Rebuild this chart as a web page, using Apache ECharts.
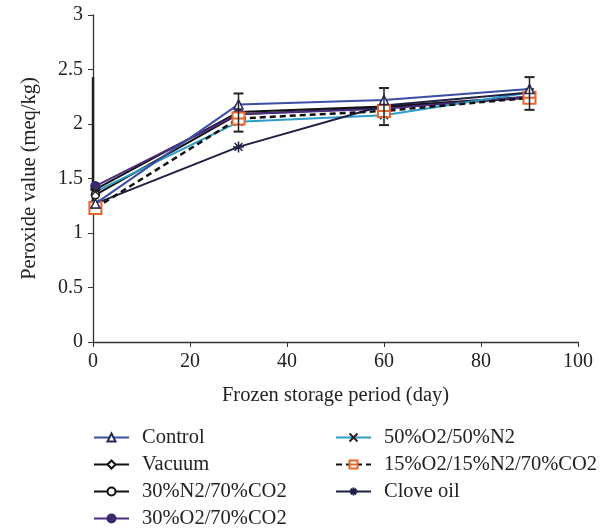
<!DOCTYPE html>
<html><head><meta charset="utf-8">
<script src="https://cdn.jsdelivr.net/npm/echarts@6/dist/echarts.min.js"></script>
<style>html,body{margin:0;padding:0;background:#fff}#c{width:614px;height:529px}</style>
</head><body><div id="c"></div>
<script>
var days = [0.5, 30, 60, 90];
var seriesNames = ['Control','Vacuum','30%N2/70%CO2','30%O2/70%CO2','50%O2/50%N2','15%O2/15%N2/70%CO2','Clove oil'];
var control   = [1.27, 2.18, 2.22, 2.32];
var vacuum    = [1.40, 2.11, 2.16, 2.25];
var n2co2     = [1.35, 2.09, 2.15, 2.24];
var o2co2     = [1.43, 2.09, 2.14, 2.25];
var o2n2      = [1.38, 2.02, 2.08, 2.29];
var o2n2co2   = [1.23, 2.05, 2.12, 2.24];
var clove     = [1.27, 1.79, 2.17, 2.29];
// error bars: [day, low, high]
var errBars = [[30, 1.93, 2.28], [60, 1.99, 2.33], [90, 2.13, 2.43]];
var axisErr = [[0, 1.17, 2.43]];
var yTicks = [0, 0.5, 1, 1.5, 2, 2.5, 3];
var xTicks = [0, 20, 40, 60, 80, 100];

var FONT = 'Liberation Serif';
function pairs(v){ return days.map(function(d,i){ return [d, v[i]]; }); }
var crossPath = 'path://M0,0L10,10M10,0L0,10';
var starPath = 'path://M5,0L5,10M0,5L10,5M1.5,1.5L8.5,8.5M8.5,1.5L1.5,8.5';
var sqPath = 'path://M0,0L10,0L10,10L0,10ZM0,5L10,5';

function lineSeries(name, data, color, symbol, opts){
  opts = opts || {};
  return {
    name: name, type: 'line', data: pairs(data), symbol: symbol,
    symbolSize: opts.size || 8,
    lineStyle: {color: color, width: opts.width || 2, type: opts.dash ? [6,4] : 'solid'},
    itemStyle: {color: opts.fill || '#fff', borderColor: opts.border || color, borderWidth: opts.bw || 1.5},
    z: opts.z || 3
  };
}

function errRender(caps){
  return function(params, api){
    var x = api.value(0), lo = api.value(1), hi = api.value(2);
    var p1 = api.coord([x, lo]), p2 = api.coord([x, hi]);
    var w = 5;
    var children = [{type:'line', shape:{x1:p1[0],y1:p1[1],x2:p2[0],y2:p2[1]}, style:{stroke:'#222', lineWidth: caps ? 1.5 : 2.5}}];
    if (caps) {
      children.push({type:'line', shape:{x1:p1[0]-w,y1:p1[1],x2:p1[0]+w,y2:p1[1]}, style:{stroke:'#222', lineWidth:2}});
      children.push({type:'line', shape:{x1:p2[0]-w,y1:p2[1],x2:p2[0]+w,y2:p2[1]}, style:{stroke:'#222', lineWidth:2}});
    }
    return {type:'group', children: children};
  };
}

var legendText = {fontFamily: FONT, fontSize: 20.5, color: '#222', padding: [0,0,0,8]};
var legendPos = [[93,427],[93,454],[93,481],[93,508],[335,427],[335,454],[335,481]];
var legends = seriesNames.map(function(n, i){
  return {data: [n], left: legendPos[i][0], top: legendPos[i][1], itemWidth: 35, itemHeight: 10, itemGap: 0, padding: 0, textStyle: legendText};
});

var chart = echarts.init(document.getElementById('c'));
chart.setOption({
  animation: false,
  grid: {left: 93, right: 36, top: 15, bottom: 187},
  xAxis: {
    type: 'value', min: 0, max: 100, interval: 20,
    name: 'Frozen storage period (day)', nameLocation: 'middle', nameGap: 43,
    nameTextStyle: {fontFamily: FONT, fontSize: 20.5, color: '#222'},
    axisLine: {onZero: false, lineStyle: {color: '#333', width: 1.3}},
    axisTick: {show: true, length: 5, lineStyle: {color: '#333'}},
    axisLabel: {fontFamily: FONT, fontSize: 20, color: '#222', margin: 10},
    splitLine: {show: false}
  },
  yAxis: {
    type: 'value', min: 0, max: 3, interval: 0.5,
    name: 'Peroxide value (meq/kg)', nameLocation: 'middle', nameGap: 53,
    nameTextStyle: {fontFamily: FONT, fontSize: 20.5, color: '#222'},
    axisLine: {show: true, onZero: false, lineStyle: {color: '#333', width: 1.3}},
    axisTick: {show: true, length: 5, lineStyle: {color: '#333'}},
    axisLabel: {fontFamily: FONT, fontSize: 20, color: '#222', margin: 10},
    splitLine: {show: false}
  },
  legend: legends,
  series: [
    {type: 'custom', name: 'axisErr', data: axisErr, renderItem: errRender(false), z: 1, silent: true},
    lineSeries('Control', control, '#3b4ea3', 'triangle', {size: 9, border: '#2a2a5a', z: 6}),
    lineSeries('Vacuum', vacuum, '#111', 'diamond', {size: 9}),
    lineSeries('30%N2/70%CO2', n2co2, '#111', 'circle', {size: 8}),
    lineSeries('30%O2/70%CO2', o2co2, '#4a2d80', 'circle', {size: 9, fill: '#3a2a6e', border: '#3a2a6e'}),
    lineSeries('50%O2/50%N2', o2n2, '#2b9dc8', crossPath, {size: 8, border: '#222'}),
    lineSeries('15%O2/15%N2/70%CO2', o2n2co2, '#111', sqPath, {size: 12, dash: true, border: '#e8652b', bw: 2, width: 2.5, z: 5}),
    lineSeries('Clove oil', clove, '#1e1f45', starPath, {size: 11, border: '#1e1f45', z: 4}),
    {type: 'custom', name: 'err', data: errBars, renderItem: errRender(true), z: 7, silent: true}
  ]
});
</script></body></html>
